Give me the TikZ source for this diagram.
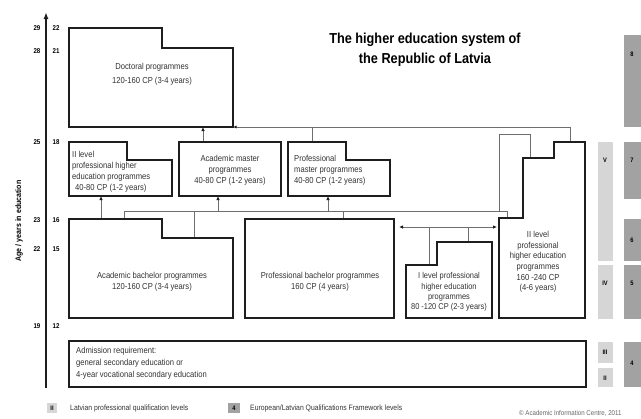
\documentclass[tikz,border=0pt]{standalone}
\usepackage{fontspec}
\setmainfont{Liberation Sans}
\newfontfamily\nar{Liberation Sans}[FakeStretch=0.88]
\usetikzlibrary{arrows.meta}
\definecolor{lineblack}{HTML}{1E1E1E}
\definecolor{conngray}{HTML}{6E6E6E}
\definecolor{txtgray}{HTML}{333333}
\definecolor{darkbar}{HTML}{A2A2A2}
\definecolor{lightbar}{HTML}{D6D6D6}
\begin{document}
\begin{tikzpicture}[x=1bp,y=-1bp,
  box/.style={draw=lineblack, line width=1.6bp, fill=white, line join=miter},
  conn/.style={draw=conngray, line width=0.8bp},
  tip/.style={Latex[length=4bp,width=3.5bp,color=lineblack]},
  arr/.style={conn, -{Latex[length=4bp,width=3.5bp,color=lineblack]}},
  txt/.style={font=\nar\fontsize{8.7}{11}\selectfont, text=txtgray, align=center, inner sep=0},
  ltxt/.style={txt, align=left, anchor=west},
  tick/.style={font=\nar\bfseries\fontsize{7}{8}\selectfont, inner sep=0},
  barlbl/.style={font=\nar\bfseries\fontsize{6.5}{7}\selectfont, inner sep=0},
  dbar/.style={fill=darkbar, draw=none},
  lbar/.style={fill=lightbar, draw=none},
  legtxt/.style={font=\nar\fontsize{7.8}{8}\selectfont, text=txtgray, inner sep=0, anchor=west}
]
\useasboundingbox (0,0) rectangle (641,418);

% ---------- axis ----------
\coordinate (axb) at (46,388);
\coordinate (axt) at (46,12);
\draw[line width=1.8bp, lineblack, -{Latex[length=7bp,width=5bp]}] (axb) -- (axt);
\node[font=\nar\bfseries\fontsize{8}{9}\selectfont, rotate=90, inner sep=0] (ylab) at (19,221) {Age / years in education};
\node[tick] (a29) at (37,28) {29};  \node[tick] (y22) at (56,28) {22};
\node[tick] (a28) at (37,51) {28};  \node[tick] (y21) at (56,51) {21};
\node[tick] (a25) at (37,142) {25}; \node[tick] (y18) at (56,142) {18};
\node[tick] (a23) at (37,220) {23}; \node[tick] (y16) at (56,220) {16};
\node[tick] (a22) at (37,249) {22}; \node[tick] (y15) at (56,249) {15};
\node[tick] (a19) at (37,326) {19}; \node[tick] (y12) at (56,326) {12};

% ---------- title ----------
\node[font=\nar\bfseries\fontsize{14.5}{20}\selectfont, align=center, inner sep=0] (title) at (425,50)
  {The higher education system of\\the Republic of Latvia};

% ---------- connectors ----------
\coordinate (docbr) at (233,127);
\coordinate (c1) at (570,127);
\coordinate (c1b) at (570,142);
\draw[conn, {Latex[length=3.5bp,width=3bp,color=lineblack]}-] (docbr) -- (c1) -- (c1b);
\coordinate (pm1) at (312,127); \coordinate (pm1b) at (312,142);
\draw[conn] (pm1) -- (pm1b);
\coordinate (am1) at (203,142); \coordinate (am1t) at (203,127);
\draw[arr] (am1) -- (am1t);

\coordinate (m0) at (124,219); \coordinate (m0t) at (124,211);
\coordinate (m9) at (507,211); \coordinate (m9b) at (507,218);
\draw[conn] (m0) -- (m0t) -- (m9) -- (m9b);
\coordinate (ab1) at (194,238); \coordinate (ab1t) at (194,211);
\draw[conn] (ab1) -- (ab1t);
\coordinate (pb1) at (343,219); \coordinate (pb1t) at (343,211);
\draw[conn] (pb1) -- (pb1t);
\coordinate (u1) at (101,219); \coordinate (u1t) at (101,196);
\draw[arr] (u1) -- (u1t);
\coordinate (u2) at (218,211); \coordinate (u2t) at (218,196);
\draw[arr] (u2) -- (u2t);
\coordinate (u3) at (328,211); \coordinate (u3t) at (328,196);
\draw[arr] (u3) -- (u3t);
\coordinate (g1) at (499,211); \coordinate (g2) at (499,134);
\coordinate (g3) at (530,134); \coordinate (g4) at (530,158);
\draw[conn] (g1) -- (g2) -- (g3) -- (g4);
\coordinate (h1) at (399,227); \coordinate (h2) at (497,227);
\draw[conn, {Latex[length=4bp,width=3.5bp,color=lineblack]}-{Latex[length=4bp,width=3.5bp,color=lineblack]}] (h1) -- (h2);
\coordinate (h3) at (429,227); \coordinate (h3b) at (429,265);
\draw[conn] (h3) -- (h3b);
\coordinate (h4) at (468,227); \coordinate (h4b) at (468,242);
\draw[conn] (h4) -- (h4b);

% ---------- boxes ----------
\draw[box] (69,28) -- (162,28) -- (162,48) -- (233,48) -- (233,127) -- (69,127) -- cycle;
\node[txt, font=\nar\fontsize{8.7}{13.8}\selectfont] (doc) at (152,74) {Doctoral programmes\\120-160 CP (3-4 years)};

\draw[box] (69,142) -- (127,142) -- (127,160) -- (172,160) -- (172,196) -- (69,196) -- cycle;
\node[ltxt] (m2) at (72,172) {II level\\professional higher\\education programmes\\\hspace{3bp}40-80 CP (1-2 years)};

\draw[box] (179,142) rectangle (281,196);
\node[txt] (am) at (230,170) {Academic master\\programmes\\40-80 CP (1-2 years)};

\draw[box] (288,142) -- (346,142) -- (346,160) -- (390,160) -- (390,196) -- (288,196) -- cycle;
\node[ltxt] (pm) at (294,170) {Professional\\master programmes\\40-80 CP (1-2 years)};

\draw[box] (69,219) -- (162,219) -- (162,238) -- (233,238) -- (233,318) -- (69,318) -- cycle;
\node[txt] (ab) at (152,282) {Academic bachelor programmes\\120-160 CP (3-4 years)};

\draw[box] (245,219) rectangle (394,318);
\node[txt] (pb) at (320,282) {Professional bachelor programmes\\160 CP (4 years)};

\draw[box] (406,318) -- (406,265) -- (437,265) -- (437,242) -- (492,242) -- (492,318) -- cycle;
\node[txt, font=\nar\fontsize{8.5}{10.2}\selectfont] (il) at (449,292) {I level professional\\higher education\\programmes\\80 -120 CP (2-3 years)};

\draw[box] (499,318) -- (499,218) -- (523,218) -- (523,158) -- (554,158) -- (554,142) -- (585,142) -- (585,318) -- cycle;
\node[txt, font=\nar\fontsize{8.7}{10.6}\selectfont] (iil) at (538,262) {II level\\professional\\higher education\\programmes\\160 -240 CP\\(4-6 years)};

\draw[box] (69,341) rectangle (586,387);
\node[ltxt, font=\nar\fontsize{8.7}{12}\selectfont] (adm) at (76,363) {Admission requirement:\\general secondary education or\\4-year vocational secondary education};

% ---------- level bars ----------
\fill[dbar] (624,35) rectangle (641,127);   \node[barlbl] (e8) at (632,54) {8};
\fill[dbar] (624,142) rectangle (641,199);  \node[barlbl] (e7) at (632,160) {7};
\fill[dbar] (624,219) rectangle (641,261);  \node[barlbl] (e6) at (632,240) {6};
\fill[dbar] (624,265) rectangle (641,319);  \node[barlbl] (e5) at (632,283) {5};
\fill[dbar] (624,342) rectangle (641,387);  \node[barlbl] (e4) at (632,363) {4};
\fill[lbar] (598,142) rectangle (613,261);  \node[barlbl] (l5) at (605,160) {V};
\fill[lbar] (598,265) rectangle (613,319);  \node[barlbl] (l4) at (605,283) {IV};
\fill[lbar] (598,342) rectangle (613,363);  \node[barlbl] (l3) at (605,352) {III};
\fill[lbar] (598,368) rectangle (613,387);  \node[barlbl] (l2) at (605,378) {II};

% ---------- legend ----------
\fill[lbar] (47,403) rectangle (57,413); \node[barlbl] (lg1) at (52,408) {II};
\node[legtxt] (lg1t) at (70,408) {Latvian professional qualification levels};
\fill[dbar] (228,403) rectangle (240,413); \node[barlbl] (lg2) at (234,408) {4};
\node[legtxt] (lg2t) at (250,408) {European/Latvian Qualifications Framework levels};
\node[legtxt, font=\nar\fontsize{7}{7}\selectfont, text=black!60] (copy) at (519,413) {© Academic Information Centre, 2011};
\end{tikzpicture}
\end{document}
